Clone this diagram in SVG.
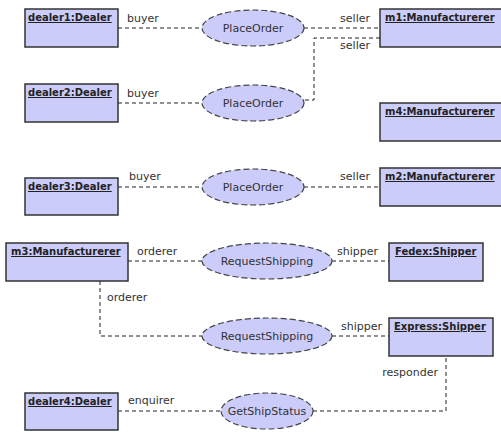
<svg xmlns="http://www.w3.org/2000/svg" width="501" height="432" viewBox="0 0 501 432">
<style>
.obj rect{fill:#ccccfa;stroke:#333;stroke-width:1.5}
.obj text{font-family:"DejaVu Sans",sans-serif;font-size:10px;font-weight:bold;fill:#222;text-decoration:underline}
.uc ellipse{fill:#ccccfa;stroke:#444;stroke-width:1.2;stroke-dasharray:6,3}
.uc text{font-family:"DejaVu Sans",sans-serif;font-size:11px;fill:#333;text-anchor:middle}
.conn path{fill:none;stroke:#222;stroke-width:1;stroke-dasharray:4,3}
.lbl{font-family:"DejaVu Sans",sans-serif;font-size:11px;fill:#333}
.r{text-anchor:end}
</style>
<rect width="501" height="432" fill="#fff"/>
<g id="dealer1" class="obj"><rect x="25" y="9" width="93" height="38"/><text x="28" y="21">dealer1:Dealer</text></g>
<g id="dealer2" class="obj"><rect x="25" y="84" width="93" height="38"/><text x="28" y="96">dealer2:Dealer</text></g>
<g id="dealer3" class="obj"><rect x="25" y="178" width="93" height="37"/><text x="28" y="190">dealer3:Dealer</text></g>
<g id="dealer4" class="obj"><rect x="25" y="393" width="93" height="37"/><text x="28" y="405">dealer4:Dealer</text></g>
<g id="m3" class="obj"><rect x="6" y="243" width="122" height="38"/><text x="11" y="255">m3:Manufacturerer</text></g>
<g id="m1" class="obj"><rect x="380" y="9" width="130" height="38"/><text x="385" y="21">m1:Manufacturerer</text></g>
<g id="m4" class="obj"><rect x="380" y="103" width="130" height="38"/><text x="385" y="115">m4:Manufacturerer</text></g>
<g id="m2" class="obj"><rect x="380" y="168" width="130" height="38"/><text x="385" y="180">m2:Manufacturerer</text></g>
<g id="fedex" class="obj"><rect x="389" y="243" width="94" height="38"/><text x="395" y="255">Fedex:Shipper</text></g>
<g id="express" class="obj"><rect x="389" y="318" width="104" height="38"/><text x="394" y="330">Express:Shipper</text></g>
<g id="placeorder1" class="uc"><ellipse cx="253" cy="28" rx="51" ry="18"/><text x="253" y="32">PlaceOrder</text></g>
<g id="placeorder2" class="uc"><ellipse cx="253" cy="103" rx="51" ry="18"/><text x="253" y="107">PlaceOrder</text></g>
<g id="placeorder3" class="uc"><ellipse cx="253" cy="187" rx="51" ry="18"/><text x="253" y="191">PlaceOrder</text></g>
<g id="requestshipping1" class="uc"><ellipse cx="267" cy="261" rx="65" ry="18"/><text x="267" y="265">RequestShipping</text></g>
<g id="requestshipping2" class="uc"><ellipse cx="267" cy="336" rx="65" ry="18"/><text x="267" y="340">RequestShipping</text></g>
<g id="getshipstatus" class="uc"><ellipse cx="267" cy="411" rx="46" ry="18"/><text x="267" y="415">GetShipStatus</text></g>
<g id="connectors" class="conn">
<path d="M118 28H202"/>
<path d="M304 28H380"/>
<path d="M380 38H314V100H304"/>
<path d="M118 103H202"/>
<path d="M118 187H202"/>
<path d="M304 187H380"/>
<path d="M128 261H202"/>
<path d="M332 261H389"/>
<path d="M100 281V336H202"/>
<path d="M332 336H389"/>
<path d="M118 411H221"/>
<path d="M313 411H446V356"/>
</g>
<g id="labels">
<text class="lbl" x="127" y="22">buyer</text>
<text class="lbl r" x="370" y="22">seller</text>
<text class="lbl r" x="370" y="49">seller</text>
<text class="lbl" x="127" y="97">buyer</text>
<text class="lbl" x="129" y="180">buyer</text>
<text class="lbl r" x="370" y="180">seller</text>
<text class="lbl" x="137" y="255">orderer</text>
<text class="lbl" x="337" y="255">shipper</text>
<text class="lbl" x="107" y="301">orderer</text>
<text class="lbl" x="341" y="330">shipper</text>
<text class="lbl r" x="438" y="376">responder</text>
<text class="lbl" x="128" y="404">enquirer</text>
</g>
</svg>
